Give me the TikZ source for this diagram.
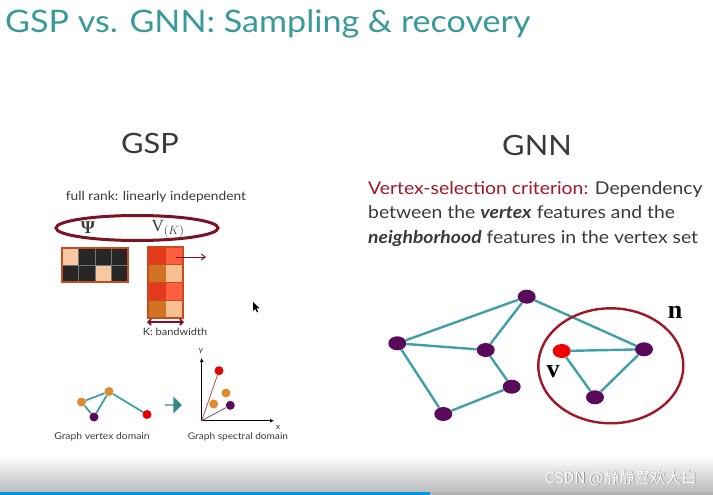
\documentclass[tikz,border=0pt]{standalone}
\usepackage{fontspec}
\setmainfont{Lato}[FakeStretch=1.1]
\newfontfamily\serifx{Liberation Serif}
\newfontfamily\cjk{Noto Sans CJK SC}
\usetikzlibrary{arrows.meta,shapes.geometric,shapes.arrows}
\definecolor{teal1}{HTML}{3A9A9A}
\definecolor{edgec}{HTML}{40A0A8}
\definecolor{txt}{HTML}{3A3A3A}
\definecolor{dred}{HTML}{7A1424}
\definecolor{cred}{HTML}{A01828}
\definecolor{purp}{HTML}{5A0A5A}
\definecolor{cdark}{HTML}{262626}
\definecolor{clight}{HTML}{F8C8A0}
\definecolor{borderc}{HTML}{C84A20}
\definecolor{vr1}{HTML}{E23A1A}
\definecolor{vr2}{HTML}{FF5E40}
\definecolor{vo1}{HTML}{D07424}
\definecolor{vo2}{HTML}{F8C090}
\definecolor{sorange}{HTML}{E08A30}
\tikzset{
  gnode/.style={ellipse,fill=purp,minimum width=18pt,minimum height=14pt,inner sep=0pt},
  gedge/.style={draw=edgec,line width=2.4pt},
  sedge/.style={draw=edgec,line width=1.8pt},
  sdot/.style={circle,minimum size=9pt,inner sep=0pt},
  lbl/.style={text=txt,inner sep=0pt},
  cellbox/.style={draw=borderc,line width=0.8pt}
}
\begin{document}
\begin{tikzpicture}[x=1pt,y=-1pt]
\useasboundingbox (0,0) rectangle (713,495);
\fill[white] (0,0) rectangle (713,495);
\shade[top color=white,bottom color=black!26] (0,455) rectangle (713,492);
\fill[black!30] (0,492) rectangle (713,495);
\fill[cyan!80!blue] (0,492) rectangle (430,495);
% title
\node[anchor=base west,text=teal1,inner sep=0pt,font=\fontsize{31}{36}\selectfont] (title) at (5,33) {GSP vs. GNN: Sampling \& recovery};
% headings
\node[lbl,font=\fontsize{28}{32}\selectfont] (gsp) at (150,143) {GSP};
\node[lbl,font=\fontsize{28}{32}\selectfont] (gnn) at (537,145) {GNN};
% GSP part
\node[lbl,font=\fontsize{12.5}{15}\selectfont] (fr) at (156,197) {full rank: linearly independent};
\node[draw=dred,line width=3pt,ellipse,minimum width=162pt,minimum height=25pt] (ell) at (137,228) {};
\node[lbl,font=\serifx\bfseries\fontsize{18}{20}\selectfont] (psi) at (88,228) {Ψ};
\node[lbl,font=\serifx\fontsize{17}{20}\selectfont] (vk) at (168,229) {V$_{(K)}$};
% Psi matrix
\foreach \c [count=\i from 0] in {clight,cdark,cdark,cdark}
  \fill[\c] (62+16.5*\i,248) rectangle ++(16.5,17);
\foreach \c [count=\i from 0] in {cdark,cdark,clight,cdark}
  \fill[\c] (62+16.5*\i,265) rectangle ++(16.5,17);
\draw[black!55,line width=0.5pt] (62,265) -- (128,265);
\foreach \i in {1,2,3} \draw[black!55,line width=0.5pt] (62+16.5*\i,248) -- ++(0,34);
\draw[borderc,line width=1.2pt] (62,248) rectangle (128,282);
% V matrix
\foreach \a/\b [count=\j from 0] in {vr1/vr2,vo1/vo2,vr1/vr2,vo1/vo2}{
  \fill[\a] (148,247+17.75*\j) rectangle ++(17.5,17.75);
  \fill[\b] (165.5,247+17.75*\j) rectangle ++(17.5,17.75);
  \draw[borderc,line width=0.8pt] (148,247+17.75*\j) rectangle ++(35,17.75);
}
\draw[borderc,line width=1.2pt] (148,247) rectangle (183,318);
\coordinate (vrow) at (176,257);
\coordinate (vrowend) at (206,257);
\draw[dred,line width=1pt,-{Straight Barb[length=4pt,width=6pt]}] (vrow) -- (vrowend);
\coordinate (bwl) at (147,322);
\coordinate (bwr) at (184,322);
\draw[dred,line width=1.6pt,{Straight Barb[length=3pt,width=6pt]}-{Straight Barb[length=3pt,width=6pt]}] (bwl) -- (bwr);
\node[lbl,font=\fontsize{10}{11}\selectfont] (bw) at (175,332) {K: bandwidth};
% cursor
\fill[black] (253,302) -- (253,311) -- (255.3,309) -- (257,312.5) -- (258.2,311.8) -- (256.6,308.5) -- (259.5,308.3) -- cycle;
% vertex domain graph
\node[sdot,fill=sorange] (o1) at (81.5,402) {};
\node[sdot,fill=sorange] (o2) at (109,391.5) {};
\node[sdot,fill=purp] (p1) at (94,417) {};
\node[sdot,fill=red!90!black] (r1) at (147,414.5) {};
\draw[sedge] (o1) -- (o2) (o1) -- (p1) (p1) -- (o2) (o2) -- (r1);
\node[lbl,font=\fontsize{9.4}{11}\selectfont] (gvd) at (102,436.5) {Graph vertex domain};
\node[single arrow,fill=edgec!85!black,minimum width=17pt,single arrow head extend=2.5pt,minimum height=17pt,inner sep=0pt] (bigarr) at (173,405) {};
% spectral domain
\coordinate (orig) at (201.7,420.7);
\coordinate (ytop) at (201.7,358);
\coordinate (xend) at (274,420.7);
\draw[black,line width=1.2pt,-{Latex[length=4pt,width=4pt]}] (orig) -- (ytop);
\draw[black,line width=1.2pt,-{Latex[length=4pt,width=4pt]}] (orig) -- (xend);
\node[lbl,font=\fontsize{8}{9}\selectfont] (ylab) at (201,351.5) {y};
\node[lbl,font=\fontsize{8}{9}\selectfont] (xlab) at (278,427) {x};
\node[sdot,fill=red!90!black] (sr) at (219,370.7) {};
\node[sdot,fill=sorange] (so1) at (226,393) {};
\node[sdot,fill=sorange] (so2) at (213.7,404) {};
\node[sdot,fill=purp] (sp) at (230.3,405.3) {};
\draw[red!40!gray,line width=0.8pt] (orig) -- (sr);
\draw[purp!40!gray,line width=0.8pt] (orig) -- (sp);
\node[lbl,font=\fontsize{9.2}{11}\selectfont] (gsd) at (238,436.5) {Graph spectral domain};
% GNN text
\node[anchor=north west,lbl,align=left,font=\fontsize{17.6}{24.5}\selectfont] (crit) at (368,181)
 {\textcolor{cred}{Vertex-selection criterion:} Dependency\\
  between the \textbf{\textit{vertex}} features and the\\
  \textbf{\textit{neighborhood}} features in the vertex set};
% GNN graph
\node[gnode] (A) at (526.7,296.7) {};
\node[gnode] (B) at (397.3,343.3) {};
\node[gnode] (C) at (485.7,350) {};
\node[gnode] (D) at (511.7,386.7) {};
\node[gnode] (E) at (443.3,414) {};
\node[gnode,fill=red!95!black] (F) at (561.7,351) {};
\node[gnode] (G) at (644,349.3) {};
\node[gnode] (H) at (595,397.3) {};
\draw[gedge] (A) -- (B) (A) -- (C) (A) -- (G) (B) -- (C) (B) -- (E) (C) -- (D) (D) -- (E) (F) -- (G) (F) -- (H) (G) -- (H);
\node[draw=cred,line width=2.4pt,ellipse,minimum width=145pt,minimum height=115pt] (nb) at (610.8,365.8) {};
\node[inner sep=0pt,font=\serifx\bfseries\fontsize{26}{28}\selectfont,text=black] (nlab) at (675,312) {n};
\node[inner sep=0pt,font=\serifx\bfseries\fontsize{26}{28}\selectfont,text=black] (vlab) at (553,372) {v};
% watermark
\node[anchor=base east,inner sep=0pt,text=white,font=\cjk\fontsize{15.5}{18}\selectfont] (wm) at (697.8,483.8) {\textcolor{black!45}{CSDN @静静喜欢大白}};
\node[anchor=base east,inner sep=0pt,text=white,font=\cjk\fontsize{15.5}{18}\selectfont] (wm2) at (697,483) {CSDN @静静喜欢大白};
\end{tikzpicture}
\end{document}
